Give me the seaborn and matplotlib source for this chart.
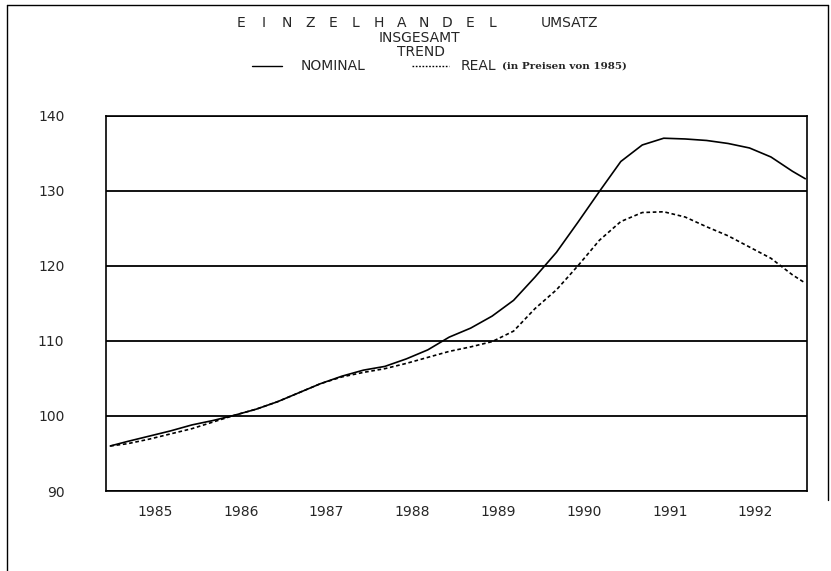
"""
Einzelhandel Umsatz insgesamt, Trend: nominal vs. real (Preise von 1985).
Writes: out.png
"""
import matplotlib
matplotlib.use("Agg")
import matplotlib.lines as mlines
import matplotlib.pyplot as plt
import pandas as pd
import seaborn as sns

# quarterly trend values
YEARS = [1985.05, 1985.25, 1985.5, 1985.75, 1986.0, 1986.25, 1986.5, 1986.75,
         1987.0, 1987.25, 1987.5, 1987.75, 1988.0, 1988.25, 1988.5, 1988.75,
         1989.0, 1989.25, 1989.5, 1989.75, 1990.0, 1990.25, 1990.5, 1990.75,
         1991.0, 1991.25, 1991.5, 1991.75, 1992.0, 1992.25, 1992.5, 1992.75,
         1993.0, 1993.15]
NOMINAL = [96.0, 96.6, 97.3, 98.0, 98.8, 99.4, 100.1, 100.9,
           101.9, 103.1, 104.3, 105.3, 106.1, 106.6, 107.6, 108.8,
           110.5, 111.7, 113.3, 115.4, 118.5, 121.8, 125.8, 129.9,
           133.9, 136.1, 137.0, 136.9, 136.7, 136.3, 135.7, 134.5,
           132.6, 131.6]
REAL = [96.0, 96.3, 96.9, 97.6, 98.3, 99.2, 100.1, 100.9,
        101.9, 103.1, 104.3, 105.2, 105.8, 106.3, 107.0, 107.8,
        108.6, 109.2, 109.9, 111.3, 114.3, 116.8, 120.0, 123.4,
        125.9, 127.1, 127.2, 126.5, 125.2, 124.0, 122.5, 121.0,
        118.8, 117.7]
YEAR_LABELS = ["1985", "1986", "1987", "1988", "1989", "1990", "1991", "1992"]
Y_TICKS = [90, 100, 110, 120, 130, 140]

W, H = 831, 571


def fx(px):
    return px / W


def fy(py):
    return 1 - py / H


def main():
    sns.set_theme(style="white")
    plt.rcParams["font.family"] = ["DejaVu Sans"]

    df = pd.DataFrame({
        "jahr": YEARS * 2,
        "wert": NOMINAL + REAL,
        "reihe": ["NOMINAL"] * len(YEARS) + ["REAL"] * len(YEARS),
    })

    fig = plt.figure(figsize=(W / 100, H / 100), dpi=100)
    ax = fig.add_axes([fx(106), fy(491), fx(807) - fx(106), fy(115.7) - fy(491)])

    sns.lineplot(data=df, x="jahr", y="wert", style="reihe",
                 dashes={"NOMINAL": "", "REAL": (2.2, 1.6)},
                 color="black", linewidth=1.2, legend=False,
                 estimator=None, sort=False, ax=ax)

    ax.set_xlim(1985.0, 1993.17)
    ax.set_ylim(90, 140)
    ax.set_xlabel("")
    ax.set_ylabel("")

    ax.set_yticks(Y_TICKS)
    ax.set_yticklabels([str(v) for v in Y_TICKS], fontsize=10)
    ax.yaxis.grid(True, color="black", linewidth=1.3)
    ax.tick_params(axis="y", which="major", direction="out", length=6,
                   width=1.0, color="black", pad=24)

    bounds = list(range(1985, 1994))
    ax.set_xticks(bounds)
    ax.set_xticklabels([])
    ax.set_xticks([int(y) + 0.57 for y in YEAR_LABELS], minor=True)
    ax.set_xticklabels(YEAR_LABELS, minor=True, fontsize=10)
    ax.tick_params(axis="x", which="major", direction="out", length=9,
                   width=1.0, color="black")
    ax.tick_params(axis="x", which="minor", length=0, pad=10)

    for side in ["left", "right", "top", "bottom"]:
        ax.spines[side].set_color("black")
        ax.spines[side].set_linewidth(1.2)

    # title block, spaced-out letters as on the plotter original
    for i, ch in enumerate("EINZELHANDEL"):
        fig.text(fx(241 + i * 22.9), fy(23), ch, ha="center", va="center",
                 fontsize=10)
    fig.text(fx(570), fy(23), "UMSATZ", ha="center", va="center", fontsize=10)
    fig.text(fx(419), fy(38), "INSGESAMT", ha="center", va="center", fontsize=10)
    fig.text(fx(421), fy(52), "TREND", ha="center", va="center", fontsize=10)

    # legend row
    fig.add_artist(mlines.Line2D([fx(252), fx(282)], [fy(66), fy(66)],
                                 color="black", linewidth=1.0))
    fig.text(fx(301), fy(66), "NOMINAL", ha="left", va="center", fontsize=10)
    fig.add_artist(mlines.Line2D([fx(412), fx(449)], [fy(66), fy(66)],
                                 color="black", linewidth=1.0,
                                 linestyle=(0, (1.2, 1.2))))
    fig.text(fx(461), fy(66), "REAL", ha="left", va="center", fontsize=10)
    fig.text(fx(502), fy(66), "(in Preisen von 1985)", ha="left", va="center",
             fontsize=7.5, fontweight="bold", family=["DejaVu Serif"])

    # outer frame of the scanned page
    fig.add_artist(mlines.Line2D([fx(7), fx(7)], [fy(5), 0], color="black",
                                 linewidth=1.0))
    fig.add_artist(mlines.Line2D([fx(7), fx(828)], [fy(5), fy(5)],
                                 color="black", linewidth=1.0))
    fig.add_artist(mlines.Line2D([fx(828), fx(828)], [fy(5), fy(500)],
                                 color="black", linewidth=1.0))

    fig.savefig("out.png", dpi=100)
    plt.close(fig)


if __name__ == "__main__":
    main()
